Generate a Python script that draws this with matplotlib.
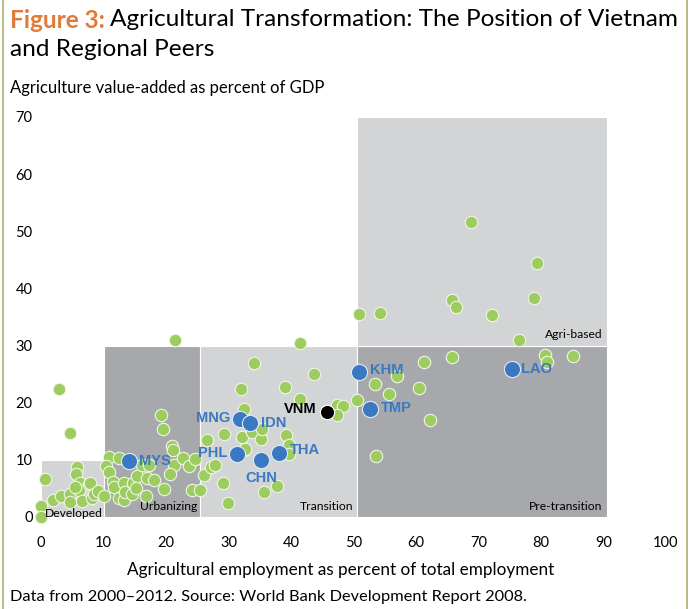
import matplotlib
matplotlib.use('Agg')
import matplotlib.pyplot as plt
from matplotlib.patches import Rectangle
from matplotlib.lines import Line2D

# Kraje wyrozznione (niebieskie) i Wietnam (czarny)
peer_names = ['MYS', 'MNG', 'IDN', 'PHL', 'CHN', 'THA', 'KHM', 'TMP', 'LAO']
peer_x = [14.1, 31.8, 33.4, 31.3, 35.2, 38.1, 50.9, 52.6, 75.3]
peer_y = [9.8, 17.1, 16.5, 11.0, 10.0, 11.2, 25.4, 18.9, 25.9]
vnm_x, vnm_y = 45.7, 18.4

# Pozostale kraje (zielone)
other_x = [2.8, 4.6, 0.6, 0.0, 0.0, 1.9, 3.2, 4.6, 4.6, 5.7, 5.6, 6.2, 6.1, 5.4,
           6.5, 7.6, 7.9, 8.1, 8.5, 9.1, 10.1,
           10.9, 10.4, 10.8, 11.5, 11.6, 12.5, 12.5, 13.3, 13.3, 13.4, 14.7, 14.5,
           15.3, 15.2, 16.1, 17.2, 16.9, 16.8, 18.1, 19.2, 19.5, 21.0, 21.1, 21.2,
           20.6, 19.6, 22.7, 23.6, 24.6, 24.1, 25.4, 21.4,
           26.0, 26.6, 27.2, 27.8, 29.1, 29.2, 29.9, 32.0, 32.4, 32.2, 32.4, 32.6,
           33.8, 34.0, 35.2, 35.3, 35.6, 37.8, 39.0, 39.2, 39.6, 39.6, 41.5, 41.5,
           43.7, 47.3, 48.3, 47.3,
           50.9, 54.2, 65.7, 66.4, 61.2, 65.7, 56.9, 53.4, 60.5, 55.7, 50.6, 62.2,
           53.6, 68.8, 79.4, 78.9, 72.2, 76.5, 80.6, 80.9, 85.1]
other_y = [22.4, 14.7, 6.6, 1.9, 0.0, 2.9, 3.6, 4.1, 2.7, 8.8, 7.6, 6.0, 4.7, 5.3,
           2.8, 5.8, 6.0, 3.3, 4.0, 4.6, 3.7,
           10.5, 8.9, 7.8, 6.2, 5.3, 10.3, 3.3, 3.0, 6.0, 4.3, 6.0, 4.1,
           7.2, 5.0, 9.1, 9.1, 6.8, 3.6, 6.5, 17.9, 15.4, 12.4, 11.7, 9.1,
           7.6, 4.9, 10.3, 8.9, 10.1, 4.7, 4.7, 30.9,
           7.4, 13.4, 8.7, 9.1, 6.0, 14.5, 2.5, 22.4, 18.9, 14.0, 11.7, 11.9,
           14.9, 27.0, 13.6, 15.4, 4.4, 5.4, 22.7, 14.4, 12.6, 11.0, 30.5, 20.6,
           25.0, 19.6, 19.4, 17.9,
           35.6, 35.7, 37.9, 36.7, 27.2, 28.0, 24.6, 23.3, 22.5, 21.5, 20.4, 17.0,
           10.7, 51.7, 44.5, 38.3, 35.4, 31.0, 28.3, 27.1, 28.2]

# Strefy: (x0, x1, y0, y1, nazwa)
zones = [(0, 10, 0, 10, 'Developed'),
         (10, 25.5, 0, 30, 'Urbanizing'),
         (25.5, 50.5, 0, 30, 'Transition'),
         (50.5, 90.5, 0, 30, 'Pre-transition'),
         (50.5, 90.5, 30, 70, 'Agri-based')]
zone_colors = ['#d3d4d6', '#a7a8ab', '#d3d4d6', '#a7a8ab', '#d3d4d6']

W, H = 694, 609
fig = plt.figure(figsize=(W / 100, H / 100), dpi=100)
ax = fig.add_axes([41 / W, (H - 517) / H, 625 / W, 400 / H])
ax.set_xlim(0, 100)
ax.set_ylim(0, 70)
for s in ax.spines.values():
    s.set_visible(False)

font = ['Lato', 'DejaVu Sans']
narrow = ['Liberation Sans Narrow', 'Liberation Sans', 'DejaVu Sans']

for (x0, x1, y0, y1, name), c in zip(zones, zone_colors):
    ax.add_patch(Rectangle((x0, y0), x1 - x0, y1 - y0, facecolor=c,
                           edgecolor='white', lw=0.8, zorder=1))

# Podpisy stref
ax.text(0.7, -0.3, 'Developed', fontsize=8.7, family=font, ha='left', va='bottom', zorder=4)
ax.text(25, 0.9, 'Urbanizing', fontsize=8.7, family=font, ha='right', va='bottom', zorder=4)
ax.text(49.9, 0.9, 'Transition', fontsize=8.7, family=font, ha='right', va='bottom', zorder=4)
ax.text(89.8, 0.9, 'Pre-transition', fontsize=8.7, family=font, ha='right', va='bottom', zorder=4)
ax.text(89.8, 30.9, 'Agri-based', fontsize=8.7, family=font, ha='right', va='bottom', zorder=4)

ax.scatter(other_x, other_y, s=80, color='#9dcc60', edgecolor='#eef6e4',
           linewidth=0.8, zorder=3, clip_on=False)
ax.scatter(peer_x, peer_y, s=135, color='#3a78c2', edgecolor='#dfe9f5',
           linewidth=0.8, zorder=5, clip_on=False)
ax.scatter([vnm_x], [vnm_y], s=105, color='black', edgecolor='white',
           linewidth=0.8, zorder=5)

# Polozenie podpisow krajow (przesuniecie w punktach, wyrownanie)
label_pos = {'MYS': (7, 0, 'left'), 'MNG': (-7, 1, 'right'), 'IDN': (8, 0, 'left'),
             'PHL': (-7, 1, 'right'), 'CHN': (0, -13, 'center'), 'THA': (8, 2, 'left'),
             'KHM': (8, 1, 'left'), 'TMP': (8, 1, 'left'), 'LAO': (7, 0, 'left')}
for name, x, y in zip(peer_names, peer_x, peer_y):
    dx, dy, ha = label_pos[name]
    ax.annotate(name, (x, y), xytext=(dx, dy), textcoords='offset points',
                ha=ha, va='center', color='#3a78c2', fontsize=10.5,
                fontweight='bold', family=narrow, zorder=6)
ax.annotate('VNM', (vnm_x, vnm_y), xytext=(-7, 2), textcoords='offset points',
            ha='right', va='center', color='black', fontsize=10.5,
            fontweight='bold', family=narrow, zorder=6)

ax.set_xticks(range(0, 101, 10))
ax.set_yticks(range(0, 71, 10))
ax.tick_params(length=0, labelsize=10.5, pad=6)
ax.tick_params(axis='x', pad=14)
for lab in ax.get_xticklabels() + ax.get_yticklabels():
    lab.set_family(font)

fig.text(341 / W, 1 - 570 / H,
         'Agricultural employment as percent of total employment',
         fontsize=12.3, family=font, ha='center', va='center')

# Tytul
t1 = fig.text(10 / W, 1 - 20 / H, 'Figure 3:', fontsize=17.6, fontweight='bold',
              color='#e07b39', family=font, va='center')
fig.canvas.draw()
bb = t1.get_window_extent()
fig.text((bb.x1 + 5) / W, 1 - 20 / H,
         'Agricultural Transformation: The Position of Vietnam',
         fontsize=17.6, family=font, va='center')
fig.text(10 / W, 1 - 50 / H, 'and Regional Peers', fontsize=17.6, family=font,
         va='center')
fig.text(10 / W, 1 - 88 / H, 'Agriculture value-added as percent of GDP',
         fontsize=12, family=font, va='center')
fig.text(10 / W, 1 - 597 / H,
         'Data from 2000\u20132012. Source: World Bank Development Report 2008.',
         fontsize=11.8, family=font, va='center')

# Ramka po bokach
for xp in (3, 687):
    fig.add_artist(Line2D([xp / W, xp / W], [0, 1], color='#b3ae74', lw=1.2))

fig.savefig('out.png', dpi=100)
